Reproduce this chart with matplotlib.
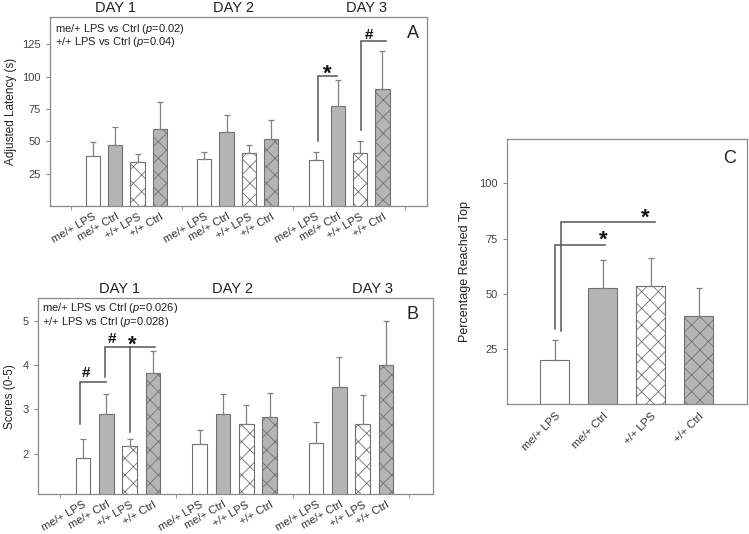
import matplotlib
matplotlib.use('Agg')
import matplotlib.pyplot as plt
import numpy as np

plt.rcParams['font.family'] = ['Liberation Sans', 'DejaVu Sans']
plt.rcParams['mathtext.fontset'] = 'custom'
plt.rcParams['mathtext.it'] = 'Liberation Sans:italic'
plt.rcParams['mathtext.rm'] = 'Liberation Sans'
plt.rcParams['hatch.linewidth'] = 0.6

# ---------------- data ----------------
groups = ["me/+ LPS", "me/+ Ctrl", "+/+ LPS", "+/+ Ctrl"]
days = ["DAY 1", "DAY 2", "DAY 3"]

latency_mean = [[39, 47, 34, 59.5], [36, 57, 41, 52], [35.5, 77, 41, 90.5]]
latency_err = [[10.5, 14, 6.5, 20.5], [5.5, 13, 6, 14.5], [6, 20, 9.5, 29.5]]

score_mean = [[1.9, 2.9, 2.17, 3.83], [2.21, 2.9, 2.67, 2.84], [2.25, 3.51, 2.67, 4.01]]
score_err = [[0.43, 0.45, 0.16, 0.5], [0.32, 0.45, 0.42, 0.54], [0.46, 0.67, 0.66, 0.99]]

pct_mean = [20, 52.7, 53.5, 40]
pct_err = [9, 12.4, 12.9, 12.7]

stats_a = ["me/+ LPS vs Ctrl ($\\mathit{p}$=0.02)", "+/+ LPS vs Ctrl ($\\mathit{p}$=0.04)"]
stats_b = ["me/+ LPS vs Ctrl ($\\mathit{p}$=0.026)", "+/+ LPS vs Ctrl ($\\mathit{p}$=0.028)"]

# brackets: (x_start, y_start, y_top, x_end)
brackets_a = [(11.09, 50, 100.5, 11.94), (13.03, 59, 127.5, 14.18)]
marks_a = [("*", 11.53, 106.5), ("#", 13.39, 133.5)]
brackets_b = [(0.86, 2.67, 3.61, 1.98), (1.95, 3.73, 4.41, 4.09), (3.01, 2.5, 4.41, 3.01)]
marks_b = [("#", 1.15, 3.86), ("#", 2.26, 4.63), ("*", 3.1, 4.59)]
brackets_c = [(1.01, 34.1, 72, 2.05), (1.13, 33.3, 82.4, 3.08)]
marks_c = [("*", 2.01, 77.3), ("*", 2.88, 87.1)]

# ---------------- styles ----------------
faces = ['white', '#b5b5b5', 'white', '#b5b5b5']
hatches = [None, None, 'xx', 'xx']
edge = '#707070'
spine_col = '#8a8a8a'
txt_col = '#222222'
bracket_col = '#555555'


def style_axes(ax):
    for s in ax.spines.values():
        s.set_color(spine_col)
        s.set_linewidth(0.9)
    ax.tick_params(axis='y', colors=spine_col, labelcolor='#444444', labelsize=8, length=3, width=0.8)


def draw_marks(ax, brackets, marks):
    for x0, y0, y1, x1 in brackets:
        ax.plot([x0, x0, x1], [y0, y1, y1], color=bracket_col, lw=1.1, solid_joinstyle='miter')
    for sym, x, y in marks:
        if sym == '*':
            ax.annotate(sym, (x, y), xytext=(0, -8.5), textcoords='offset points',
                        ha='center', va='baseline', fontsize=16, fontweight='bold', color='#111111')
        else:
            ax.annotate(sym, (x, y), xytext=(0, -4), textcoords='offset points',
                        ha='center', va='baseline', fontsize=11, fontweight='bold', color='#111111')


def day_panel(ax, means, errs, width, day_x):
    pos_all, lab_all = [], []
    for d in range(3):
        for i in range(4):
            x = 5 * d + 1 + i
            ax.bar(x, means[d][i], width=width, color=faces[i], edgecolor=edge,
                   hatch=hatches[i], linewidth=0.8, zorder=2)
            ax.errorbar(x, means[d][i], yerr=[[0], [errs[d][i]]], fmt='none',
                        ecolor='#808080', elinewidth=0.9, capsize=2.5, capthick=0.9, zorder=3)
            pos_all.append(x)
            lab_all.append(groups[i])
    ax.set_xlim(-0.93, 16)
    ax.set_xticks(pos_all)
    ax.set_xticklabels(lab_all, rotation=30, ha='right', rotation_mode='anchor',
                       fontsize=8, color='#333333')
    ax.tick_params(axis='x', length=0, pad=4)
    ax.set_xticks([0, 5, 10, 15], minor=True)
    ax.tick_params(axis='x', which='minor', length=3, color=spine_col)
    for d in range(3):
        ax.annotate(days[d], (day_x[d], 1.0), xycoords=('data', 'axes fraction'),
                    xytext=(0, 3.8), textcoords='offset points', ha='center', va='baseline',
                    fontsize=10.5, color=txt_col, annotation_clip=False)


fig = plt.figure(figsize=(7.49, 5.34), dpi=100)

# Panel A
axA = fig.add_axes([50 / 749, 1 - 206 / 534, 377 / 749, 189 / 534])
style_axes(axA)
day_panel(axA, latency_mean, latency_err, 0.64, [2.0, 7.3, 13.3])
axA.set_ylim(0, 146)
axA.set_yticks([25, 50, 75, 100, 125])
axA.set_ylabel("Adjusted Latency (s)", fontsize=8.5, color=txt_col)
axA.yaxis.set_label_coords(-0.088, 0.5)
axA.text(0.013, 0.937, stats_a[0], transform=axA.transAxes, fontsize=8, va='center', color=txt_col)
axA.text(0.013, 0.868, stats_a[1], transform=axA.transAxes, fontsize=8, va='center', color=txt_col)
axA.text(0.962, 0.915, "A", transform=axA.transAxes, fontsize=13, ha='center', va='center', color=txt_col)
draw_marks(axA, brackets_a, marks_a)

# Panel B
axB = fig.add_axes([38 / 749, 1 - 494 / 534, 394.7 / 749, 195.7 / 534])
style_axes(axB)
day_panel(axB, score_mean, score_err, 0.63, [2.56, 7.4, 13.4])
axB.set_ylim(1.09, 5.51)
axB.set_yticks([2, 3, 4, 5])
axB.set_ylabel("Scores (0-5)", fontsize=8.5, color=txt_col)
axB.yaxis.set_label_coords(-0.056, 0.5)
axB.text(0.009, 0.95, stats_b[0], transform=axB.transAxes, fontsize=8, va='center', color=txt_col)
axB.text(0.009, 0.88, stats_b[1], transform=axB.transAxes, fontsize=8, va='center', color=txt_col)
axB.text(0.949, 0.915, "B", transform=axB.transAxes, fontsize=13, ha='center', va='center', color=txt_col)
draw_marks(axB, brackets_b, marks_b)

# Panel C
axC = fig.add_axes([506.7 / 749, 1 - 404 / 534, 240 / 749, 264.7 / 534])
style_axes(axC)
xc = np.arange(1, 5)
for i in range(4):
    axC.bar(xc[i], pct_mean[i], width=0.6, color=faces[i], edgecolor=edge,
            hatch=hatches[i], linewidth=0.8, zorder=2)
    axC.errorbar(xc[i], pct_mean[i], yerr=[[0], [pct_err[i]]], fmt='none',
                 ecolor='#808080', elinewidth=0.9, capsize=2.5, capthick=0.9, zorder=3)
axC.set_xlim(0, 5)
axC.set_ylim(0, 120)
axC.set_yticks([25, 50, 75, 100])
axC.set_xticks(xc)
axC.set_xticklabels(groups, rotation=45, ha='right', rotation_mode='anchor', fontsize=8, color='#333333')
axC.tick_params(axis='x', length=0, pad=5)
axC.set_ylabel("Percentage Reached Top", fontsize=9, color=txt_col)
axC.yaxis.set_label_coords(-0.15, 0.5)
axC.text(0.93, 0.929, "C", transform=axC.transAxes, fontsize=13, ha='center', va='center', color=txt_col)
draw_marks(axC, brackets_c, marks_c)

fig.savefig("out.png", dpi=100)
